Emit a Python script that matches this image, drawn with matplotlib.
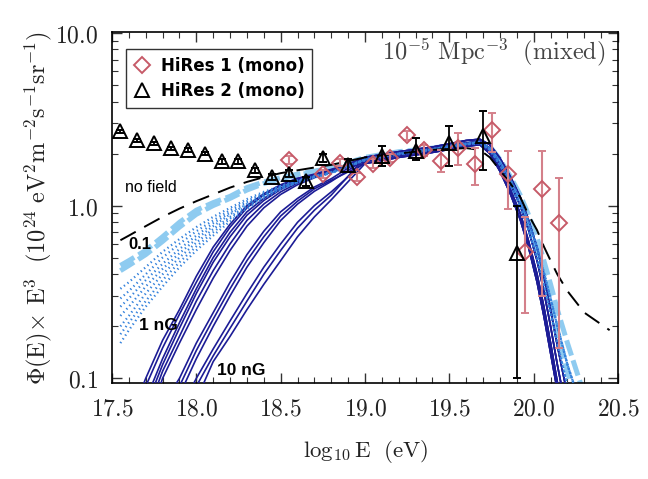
import numpy as np
import matplotlib
matplotlib.use("Agg")
import matplotlib.pyplot as plt
from matplotlib.lines import Line2D
from matplotlib.ticker import FixedLocator, NullFormatter, LogLocator

plt.rcParams['mathtext.fontset'] = 'cm'

# HiRes 2 (mono), triangles
hr2_x = [17.55, 17.65, 17.75, 17.85, 17.95, 18.05, 18.15, 18.25, 18.35, 18.45,
         18.55, 18.65, 18.75, 18.9, 19.1, 19.3, 19.5, 19.7, 19.9]
hr2_y = [2.69, 2.39, 2.29, 2.14, 2.09, 2.0, 1.8, 1.8, 1.6, 1.47,
         1.53, 1.38, 1.88, 1.71, 1.93, 2.06, 2.29, 2.52, 0.53]
hr2_lo = [0.05, 0.05, 0.05, 0.05, 0.05, 0.05, 0.05, 0.05, 0.05, 0.06,
          0.07, 0.08, 0.1, 0.15, 0.24, 0.23, 0.6, 0.92, 0.43]
hr2_hi = [0.05, 0.05, 0.05, 0.05, 0.05, 0.05, 0.05, 0.05, 0.05, 0.06,
          0.07, 0.08, 0.1, 0.15, 0.27, 0.39, 0.59, 1.0, 0.47]

# HiRes 1 (mono), diamonds
hr1_x = [18.55, 18.75, 18.85, 18.95, 19.05, 19.15, 19.25, 19.35, 19.45, 19.55,
         19.65, 19.75, 19.85, 19.95, 20.05, 20.15]
hr1_y = [1.83, 1.53, 1.77, 1.47, 1.75, 1.88, 2.55, 2.09, 1.82, 2.14,
         1.75, 2.72, 1.53, 0.54, 1.25, 0.79]
hr1_lo = [0.1, 0.08, 0.08, 0.08, 0.1, 0.1, 0.15, 0.15, 0.25, 0.43,
          0.44, 0.67, 0.57, 0.3, 0.95, 0.64]
hr1_hi = [0.1, 0.08, 0.08, 0.08, 0.1, 0.1, 0.15, 0.15, 0.27, 0.48,
          0.39, 0.7, 0.53, 0.32, 0.82, 0.65]

# model curves: low-energy part (grid xl) and high-energy part (grid xh)
xl = [17.55, 17.6, 17.7, 17.8, 17.9, 18.0, 18.1, 18.2, 18.3, 18.4, 18.5, 18.6, 18.7, 18.8]
xh = [19.0, 19.2, 19.4, 19.6, 19.68, 19.74, 19.8, 19.86, 19.92, 19.97, 20.02, 20.06,
      20.1, 20.14, 20.2, 20.3, 20.45]

nofield_low = [0.63, 0.67, 0.76, 0.86, 0.96, 1.06, 1.16, 1.27, 1.37, 1.46, 1.54, 1.6, 1.66, 1.72]
nofield_high = [1.9, 2.0, 2.1, 2.15, 2.1, 1.9, 1.6, 1.35, 1.12, 0.88, 0.72, 0.58,
                0.48, 0.4, 0.32, 0.24, 0.19]

light_low = [
    [0.45, 0.48, 0.55, 0.66, 0.8, 0.94, 1.04, 1.13, 1.27, 1.37, 1.45, 1.52, 1.58, 1.65],
    [0.42, 0.45, 0.52, 0.62, 0.75, 0.89, 1.0, 1.1, 1.23, 1.34, 1.43, 1.5, 1.57, 1.64],
]
light_high = [
    [1.9, 2.05, 2.15, 2.3, 2.35, 2.2, 1.85, 1.48, 1.15, 0.88, 0.65, 0.48, 0.35, 0.25, 0.16, 0.08, 0.02],
    [1.87, 2.02, 2.12, 2.27, 2.32, 2.12, 1.75, 1.38, 1.05, 0.78, 0.56, 0.4, 0.28, 0.19, 0.11, 0.05, 0.02],
]

dot_low = [
    [0.33, 0.36, 0.44, 0.54, 0.64, 0.75, 0.86, 0.97, 1.09, 1.2, 1.3, 1.4, 1.48, 1.56],
    [0.29, 0.32, 0.4, 0.5, 0.6, 0.71, 0.82, 0.94, 1.06, 1.18, 1.29, 1.39, 1.48, 1.56],
    [0.26, 0.29, 0.37, 0.46, 0.56, 0.67, 0.79, 0.91, 1.04, 1.16, 1.28, 1.38, 1.47, 1.55],
    [0.23, 0.26, 0.34, 0.43, 0.53, 0.64, 0.76, 0.89, 1.02, 1.15, 1.27, 1.38, 1.47, 1.55],
    [0.2, 0.23, 0.31, 0.4, 0.5, 0.61, 0.73, 0.86, 1.0, 1.13, 1.26, 1.37, 1.46, 1.55],
    [0.18, 0.21, 0.28, 0.37, 0.47, 0.58, 0.7, 0.84, 0.98, 1.12, 1.25, 1.36, 1.46, 1.54],
    [0.16, 0.19, 0.26, 0.34, 0.44, 0.55, 0.67, 0.81, 0.96, 1.1, 1.24, 1.36, 1.45, 1.54],
]
dot_high = [
    [1.85, 2.0, 2.12, 2.28, 2.33, 2.15, 1.8, 1.42, 1.08, 0.8, 0.57, 0.41, 0.29, 0.2, 0.12, 0.06, 0.02],
    [1.83, 1.98, 2.1, 2.26, 2.3, 2.1, 1.72, 1.33, 1.0, 0.72, 0.5, 0.35, 0.24, 0.16, 0.09, 0.04, 0.02],
]

solid_low = [
    [0.035, 0.056, 0.10, 0.166, 0.25, 0.39, 0.575, 0.78, 1.0, 1.17, 1.32, 1.44, 1.52, 1.62],
    [0.03, 0.05, 0.09, 0.15, 0.235, 0.36, 0.54, 0.75, 0.97, 1.15, 1.30, 1.42, 1.51, 1.61],
    [0.025, 0.04, 0.075, 0.13, 0.21, 0.33, 0.5, 0.7, 0.92, 1.1, 1.26, 1.4, 1.5, 1.6],
    [0.02, 0.035, 0.068, 0.12, 0.195, 0.31, 0.47, 0.66, 0.88, 1.07, 1.24, 1.38, 1.49, 1.6],
    [0.02, 0.03, 0.06, 0.11, 0.175, 0.28, 0.42, 0.6, 0.82, 1.02, 1.2, 1.35, 1.47, 1.58],
    [0.015, 0.025, 0.05, 0.1, 0.16, 0.25, 0.38, 0.55, 0.76, 0.97, 1.16, 1.32, 1.45, 1.56],
    [0.01, 0.02, 0.04, 0.07, 0.1, 0.16, 0.24, 0.36, 0.52, 0.71, 0.92, 1.1, 1.28, 1.43],
    [0.01, 0.02, 0.035, 0.06, 0.09, 0.145, 0.22, 0.33, 0.48, 0.66, 0.87, 1.06, 1.25, 1.4],
    [0.01, 0.015, 0.03, 0.05, 0.08, 0.13, 0.2, 0.3, 0.44, 0.61, 0.82, 1.02, 1.21, 1.38],
    [0.01, 0.015, 0.025, 0.04, 0.065, 0.1, 0.148, 0.215, 0.31, 0.44, 0.6, 0.8, 1.0, 1.2],
    [0.01, 0.012, 0.02, 0.035, 0.055, 0.09, 0.135, 0.195, 0.28, 0.4, 0.55, 0.74, 0.94, 1.15],
    [0.01, 0.012, 0.02, 0.03, 0.05, 0.075, 0.125, 0.175, 0.25, 0.35, 0.48, 0.66, 0.86, 1.08],
]
solid_high = [
    [1.85, 2.0, 2.12, 2.3, 2.35, 2.15, 1.75, 1.35, 1.0, 0.72, 0.48, 0.32, 0.2, 0.12, 0.06, 0.03, 0.01],
    [1.8, 1.95, 2.08, 2.25, 2.3, 2.05, 1.65, 1.25, 0.9, 0.62, 0.4, 0.26, 0.16, 0.095, 0.05, 0.02, 0.01],
    [1.9, 2.05, 2.18, 2.38, 2.42, 2.25, 1.88, 1.48, 1.12, 0.82, 0.57, 0.39, 0.25, 0.155, 0.08, 0.03, 0.01],
    [1.75, 1.9, 2.03, 2.2, 2.25, 2.0, 1.58, 1.18, 0.83, 0.57, 0.36, 0.23, 0.14, 0.085, 0.04, 0.02, 0.01],
]

x_ticks = [17.5, 18.0, 18.5, 19.0, 19.5, 20.0, 20.5]
x_labels = ['17.5', '18.0', '18.5', '19.0', '19.5', '20.0', '20.5']
y_ticks = [0.1, 1.0, 10.0]
y_labels = ['0.1', '1.0', '10.0']

fig = plt.figure(figsize=(6.48, 4.79), dpi=100)
ax = fig.add_axes([0.1728, 0.2004, 0.781, 0.7328])

xall = xl + xh
navy = '#1c1c96'
for i, low in enumerate(solid_low):
    ax.plot(xall, low + solid_high[i % 4], color=navy, lw=1.2, zorder=3)
for i, low in enumerate(dot_low):
    ax.plot(xall, low + dot_high[i % 2], color='#3582dc', lw=1.6,
            linestyle=(0, (0.6, 1.4)), zorder=4)
for i, low in enumerate(light_low):
    ax.plot(xall, low + light_high[i], color='#8ecbf0', lw=3.6,
            linestyle=(0, (3.2, 1.0)), zorder=2)
ax.plot(xall, nofield_low + nofield_high, color='black', lw=1.4,
        dashes=(9, 5), zorder=5)

ax.errorbar(hr1_x, hr1_y, yerr=[hr1_lo, hr1_hi], fmt='D', ms=8, mfc='none',
            mec='#c65a68', mew=1.4, ecolor='#d4808a', elinewidth=1.5, capsize=3,
            zorder=6)
ax.errorbar(hr2_x, hr2_y, yerr=[hr2_lo, hr2_hi], fmt='^', ms=9.5, mfc='none',
            mec='black', mew=1.4, ecolor='black', elinewidth=1.3, capsize=3,
            zorder=7)

ax.set_yscale('log')
ax.set_xlim(17.5, 20.5)
ax.set_ylim(0.094, 10.1)

ax.xaxis.set_major_locator(FixedLocator(x_ticks))
ax.set_xticklabels(['$' + s + '$' for s in x_labels])
ax.xaxis.set_minor_locator(FixedLocator(np.round(np.arange(17.6, 20.5, 0.1), 2)))
ax.yaxis.set_major_locator(FixedLocator(y_ticks))
ax.set_yticklabels(['$' + s + '$' for s in y_labels])
ax.yaxis.set_minor_locator(LogLocator(base=10, subs=np.arange(2, 10)))
ax.yaxis.set_minor_formatter(NullFormatter())
ax.tick_params(which='both', direction='in', top=True, right=True,
               labelsize=17, labelcolor='#222222', color='#333333')
ax.tick_params(which='major', length=7, width=1.0, pad=10)
ax.tick_params(which='minor', length=4, width=0.8)
for s in ax.spines.values():
    s.set_linewidth(1.2)

ax.set_xlabel(r'$\log_{10}\mathrm{E}\ \ (\mathrm{eV})$', fontsize=16.5, color='#222222', labelpad=12)
ax.set_ylabel(r'$\Phi(\mathrm{E})\!\times\,\mathrm{E}^3\ \ (10^{24}\ \mathrm{eV}^2\mathrm{m}^{-2}\mathrm{s}^{-1}\mathrm{sr}^{-1})$',
              fontsize=17.5, color='#222222', labelpad=1)

handles = [Line2D([], [], ls='none', marker='D', ms=8, mfc='none', mec='#c65a68', mew=1.4),
           Line2D([], [], ls='none', marker='^', ms=9.5, mfc='none', mec='black', mew=1.4)]
leg = ax.legend(handles, ['HiRes 1 (mono)', 'HiRes 2 (mono)'], loc='upper left',
                bbox_to_anchor=(0.012, 0.975), frameon=True,
                fancybox=False, edgecolor='black', handlelength=1.0,
                handletextpad=0.6, borderpad=0.45, labelspacing=0.45,
                prop={'family': 'DejaVu Sans', 'weight': 'bold', 'size': 12})
leg.get_frame().set_linewidth(1.0)

ax.text(0.975, 0.943, r'$10^{-5}\ \mathrm{Mpc}^{-3}\ \ (\mathrm{mixed})$', transform=ax.transAxes,
        ha='right', va='center', fontsize=17.5, color='#444444')
ax.text(17.58, 1.2, 'no field', fontsize=11.5, family='Liberation Sans')
ax.text(17.6, 0.56, '0.1', fontsize=12, family='Liberation Sans', weight='bold')
ax.text(17.66, 0.19, '1 nG', fontsize=12.5, family='Liberation Sans', weight='bold')
ax.text(18.12, 0.104, '10 nG', fontsize=12.5, family='Liberation Sans', weight='bold')

fig.savefig('out.png', dpi=100)
